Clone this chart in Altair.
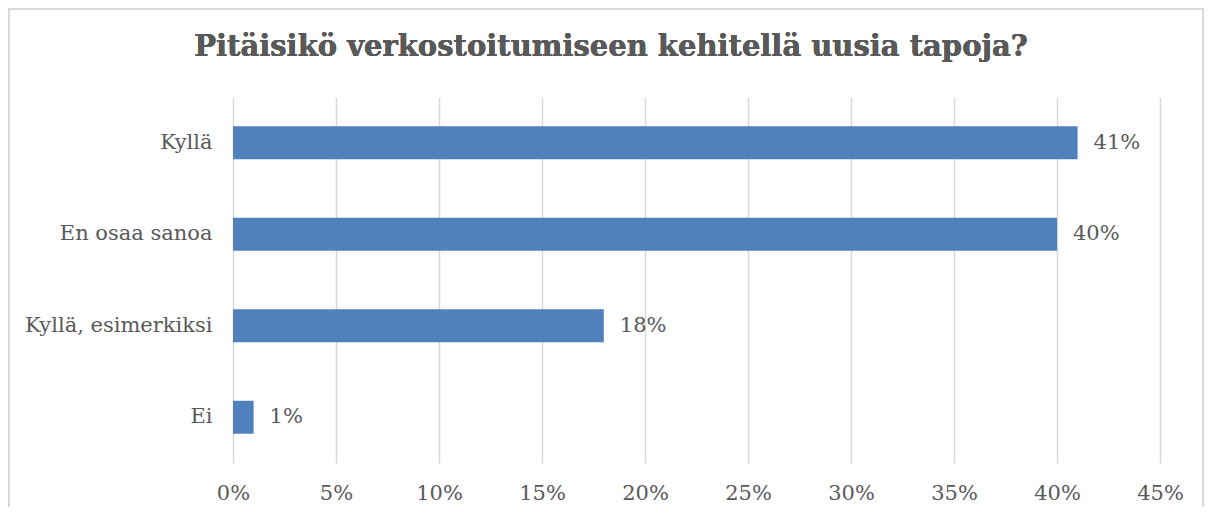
import altair as alt
import pandas as pd

categories = ["Kyllä", "En osaa sanoa", "Kyllä, esimerkiksi", "Ei"]
values = [0.41, 0.40, 0.18, 0.01]
tick_values = [0, 0.05, 0.10, 0.15, 0.20, 0.25, 0.30, 0.35, 0.40, 0.45]
title_text = "Pitäisikö verkostoitumiseen kehitellä uusia tapoja?"

df = pd.DataFrame({"cat": categories, "val": values})

FONT = "DejaVu Serif"
GRAY = "#595959"

x_enc = alt.X(
    "val:Q",
    scale=alt.Scale(domain=[0, 0.45], nice=False, zero=True),
    axis=alt.Axis(
        values=tick_values, format=".0%", title=None, grid=True,
        gridColor="#d9d9d9", gridWidth=1.5, domain=False, ticks=False,
        labelFont=FONT, labelFontSize=21, labelColor=GRAY, labelPadding=19,
        labelFlush=False, labelOverlap=False,
    ),
)
y_enc = alt.Y(
    "cat:N", sort=categories,
    scale=alt.Scale(paddingInner=0.64, paddingOuter=0.32),
    axis=alt.Axis(
        title=None, domain=False, ticks=False, labelFont=FONT,
        labelFontSize=21, labelColor=GRAY, labelPadding=21, labelLimit=400,
    ),
)

bars = alt.Chart(df).mark_bar(color="#4f81bd").encode(x=x_enc, y=y_enc)
labels = alt.Chart(df).mark_text(
    align="left", baseline="middle", dx=16, font=FONT, fontSize=21, color=GRAY
).encode(x="val:Q", y=alt.Y("cat:N", sort=categories), text=alt.Text("val:Q", format=".0%"))

border = alt.Chart(df).mark_rect(fill=None, stroke="#d9d9d9", strokeWidth=1.5).encode(
    x=alt.value(-224), x2=alt.value(970), y=alt.value(-88), y2=alt.value(440)
)

title = alt.Chart(df).mark_text(
    text=title_text, font=FONT, fontSize=29, fontWeight="bold", color=GRAY,
    align="center", baseline="middle",
).encode(x=alt.value(378), y=alt.value(-50))

chart = alt.layer(border, bars, labels, title).properties(
    width=927, height=366,
    autosize=alt.AutoSizeParams(type="none"),
    padding={"left": 225, "top": 89, "right": 44, "bottom": 44},
).configure_view(stroke=None)

chart.save("out.html", embed_options={"renderer": "svg", "actions": False})
